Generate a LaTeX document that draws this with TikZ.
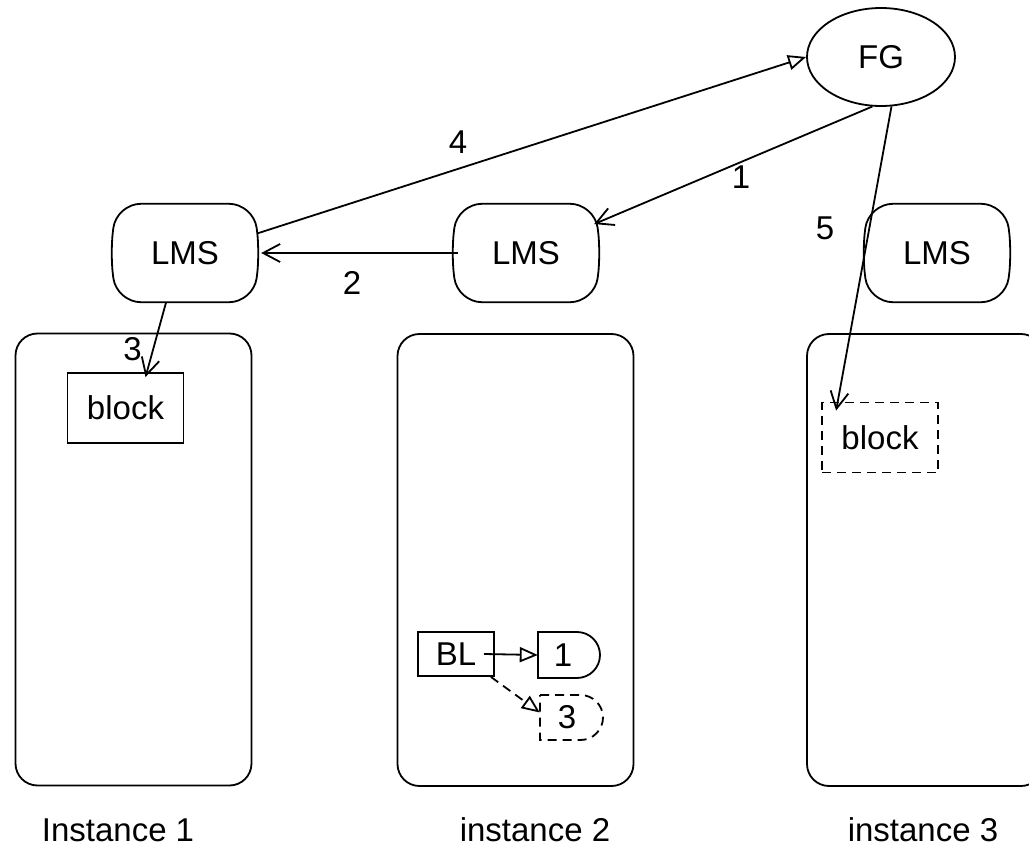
\documentclass[tikz,border=0pt]{standalone}
\usepackage{fontspec}
\setmainfont{Liberation Sans}
\usetikzlibrary{arrows.meta,calc,shapes.geometric}
\begin{document}
\begin{tikzpicture}[x=1pt,y=-1pt,
  every node/.style={font=\fontsize{33}{39}\selectfont, inner sep=0pt},
  ln/.style={line width=1.8pt},
  barb/.style={ln,-{Straight Barb[length=17pt,width=18pt,line width=1.8pt]}},
  tri/.style={ln,-{Triangle[open,length=18pt,width=15pt,line width=1.8pt]}},
  dsh/.style={dash pattern=on 9pt off 6pt},
  lmsbox/.style={minimum width=136pt,minimum height=98pt},
  instbox/.style={draw,ln,rounded corners=22pt,minimum width=236pt,minimum height=452pt},
  blockbox/.style={draw,ln,minimum width=116pt,minimum height=70pt}
]
\useasboundingbox (0,0) rectangle (1029,848);
\clip (0,0) rectangle (1029,848);

% instance boxes
\node[instbox] (inst1) at (133.5,559.5) {};
\node[instbox] (inst2) at (515.5,560) {};
\node[instbox] (inst3) at (925,560) {};

% FG
\node[draw,ln,ellipse,minimum width=148pt,minimum height=98pt] (fg) at (881,57) {FG};

% LMS nodes
\node[lmsbox] (lms1) at (185,253) {LMS};
\node[lmsbox] (lms2) at (526,253) {LMS};
\node[lmsbox] (lms3) at (937,253) {LMS};
\foreach \n in {lms1,lms2,lms3}{
  \draw[ln,rounded corners=24pt]
    (\n.north west) -- (\n.north east) -- ([xshift=7pt]\n.east) -- (\n.south east)
    -- (\n.south west) -- ([xshift=-7pt]\n.west) -- cycle;
}

% blocks
\node[blockbox] (block1) at (125.5,408) {block};
\node[blockbox,dsh] (block3) at (880,437.5) {block};

% BL and delay shapes
\node[draw,ln,minimum width=76pt,minimum height=44pt] (bl) at (456,654) {BL};
\node[minimum width=50pt,minimum height=46pt] (d1) at (563,655) {1};
\draw[ln] (538,632) -- (577,632) .. controls (589.7,632) and (600,642.3) .. (600,655)
  .. controls (600,667.7) and (589.7,678) .. (577,678) -- (538,678) -- cycle;
\node[minimum width=54pt,minimum height=45pt] (d3) at (567,717.5) {3};
\draw[ln,dsh] (540,695) -- (580.5,695) .. controls (592.9,695) and (603,705.1) .. (603,717.5)
  .. controls (603,729.9) and (592.9,740) .. (580.5,740) -- (540,740) -- cycle;

% connectors
\draw[barb] (fg.-100) -- (lms2.23);
\node (l1) at (741,177) {1};
\draw[barb] (lms2.west) -- ([xshift=8pt]lms1.east);
\node (l2) at (352,283) {2};
\draw[barb] (lms1.-111) -- ([shift={(20pt,-5pt)}]block1.north) coordinate (b1tip);
\node[anchor=east] (l3) at (142,349) {3};
\draw[tri] ([xshift=4pt]lms1.16) -- (fg.west);
\node (l4) at (458,142) {4};
\draw[barb] (fg.-78) -- ([shift={(15pt,-9pt)}]block3.north west) coordinate (b3tip);
\node (l5) at (825,228) {5};
\draw[tri] ([xshift=28pt]bl.center) -- (d1.west);
\draw[tri,dsh] ([xshift=-4pt]bl.south east) -- ([yshift=5pt]d3.west);

% instance labels
\node (t1) at (118,830) {Instance 1};
\node (t2) at (535,830) {instance 2};
\node (t3) at (923,830) {instance 3};
\end{tikzpicture}
\end{document}
